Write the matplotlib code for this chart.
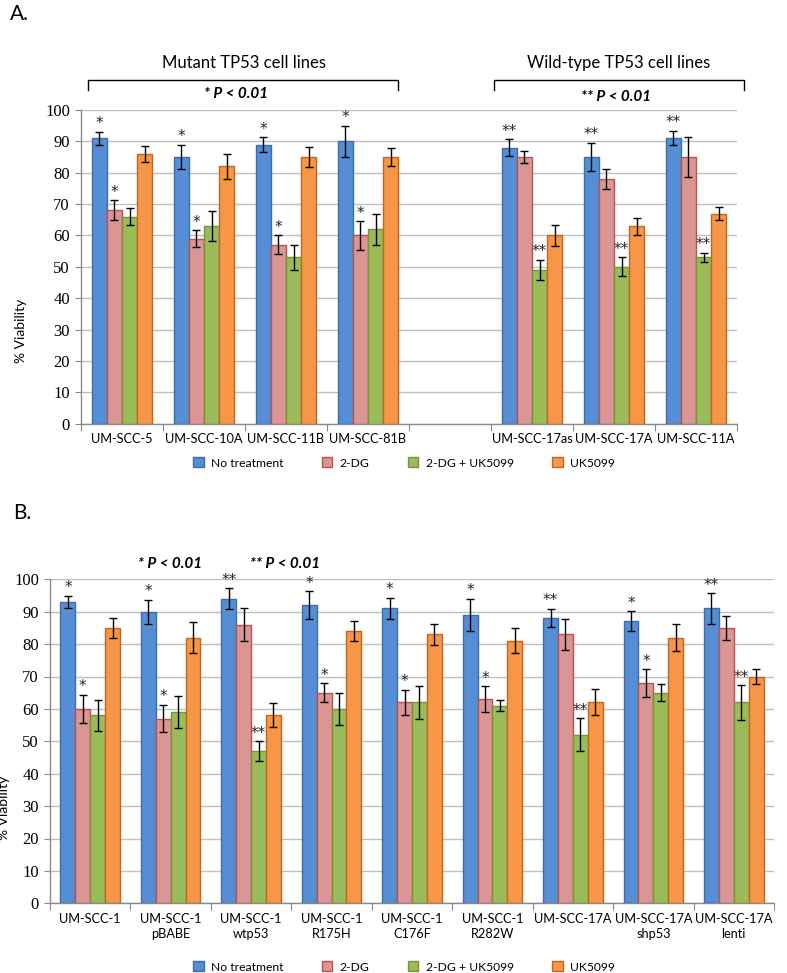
import matplotlib
matplotlib.use("Agg")
import matplotlib.pyplot as plt
import matplotlib.transforms as mtransforms
from matplotlib.patches import Patch
import numpy as np

plt.rcParams['font.family'] = ['Lato', 'DejaVu Sans']

series_names = ["No treatment", "2-DG", "2-DG + UK5099", "UK5099"]
face_colors = ["#558ED5", "#D99694", "#9BBB59", "#F79646"]
edge_colors = ["#3B6DB0", "#C0504D", "#77933C", "#C3651E"]

# ---------------- Panel A data ----------------
a_categories = ["UM-SCC-5", "UM-SCC-10A", "UM-SCC-11B", "UM-SCC-81B", "",
                "UM-SCC-17as", "UM-SCC-17A", "UM-SCC-11A"]
a_no_treat = [91, 85, 89, 90, None, 88, 85, 91]
a_2dg      = [68, 59, 57, 60, None, 85, 78, 85]
a_combo    = [66, 63, 53, 62, None, 49, 50, 53]
a_uk       = [86, 82, 85, 85, None, 60, 63, 67]
a_no_treat_err = [2.0, 3.9, 2.3, 5.0, None, 2.7, 4.5, 2.3]
a_2dg_err      = [3.2, 2.6, 3.0, 4.5, None, 2.0, 3.3, 6.4]
a_combo_err    = [2.7, 4.7, 4.0, 5.0, None, 3.2, 3.0, 1.5]
a_uk_err       = [2.6, 4.0, 3.2, 2.8, None, 3.2, 2.7, 2.2]
a_no_treat_sig = ["*", "*", "*", "*", "", "**", "**", "**"]
a_2dg_sig      = ["*", "*", "*", "*", "", "", "", ""]
a_combo_sig    = ["", "", "", "", "", "**", "**", "**"]
a_uk_sig       = ["", "", "", "", "", "", "", ""]

# ---------------- Panel B data ----------------
b_categories = ["UM-SCC-1", "UM-SCC-1\npBABE", "UM-SCC-1\nwtp53", "UM-SCC-1\nR175H",
                "UM-SCC-1\nC176F", "UM-SCC-1\nR282W", "UM-SCC-17A",
                "UM-SCC-17A\nshp53", "UM-SCC-17A\nlenti"]
b_no_treat = [93, 90, 94, 92, 91, 89, 88, 87, 91]
b_2dg      = [60, 57, 86, 65, 62, 63, 83, 68, 85]
b_combo    = [58, 59, 47, 60, 62, 61, 52, 65, 62]
b_uk       = [85, 82, 58, 84, 83, 81, 62, 82, 70]
b_no_treat_err = [2.0, 3.7, 3.2, 4.3, 3.3, 5.0, 2.8, 3.1, 4.7]
b_2dg_err      = [4.3, 4.2, 5.0, 2.9, 3.9, 4.0, 4.9, 4.2, 3.8]
b_combo_err    = [4.8, 5.0, 3.0, 4.9, 5.0, 1.8, 5.1, 2.7, 5.3]
b_uk_err       = [3.0, 4.7, 3.7, 3.0, 3.3, 3.9, 4.0, 4.1, 2.2]
b_no_treat_sig = ["*", "*", "**", "*", "*", "*", "**", "*", "**"]
b_2dg_sig      = ["*", "*", "", "*", "*", "*", "", "*", ""]
b_combo_sig    = ["", "", "**", "", "", "", "**", "", "**"]
b_uk_sig       = ["", "", "", "", "", "", "", "", ""]

W, H = 787, 973
fig = plt.figure(figsize=(W / 100, H / 100), dpi=100)


def make_axes(left, top, right, bottom):
    return fig.add_axes([left / W, 1 - bottom / H, (right - left) / W, (bottom - top) / H])


GRID = "#BFBFBF"
SPINE = "#898989"
BW = 0.185


def draw_panel(ax, cats, vals, errs, sigs):
    n = len(cats)
    centers = np.arange(n) + 0.5
    for j in range(4):
        xs, ys, es, ss = [], [], [], []
        for i in range(n):
            if vals[j][i] is None:
                continue
            xs.append(centers[i] + (j - 1.5) * BW)
            ys.append(vals[j][i])
            es.append(errs[j][i])
            ss.append(sigs[j][i])
        ax.bar(xs, ys, width=BW, color=face_colors[j], edgecolor=edge_colors[j],
               linewidth=1.0, zorder=3)
        ax.errorbar(xs, ys, yerr=es, fmt="none", ecolor="black", elinewidth=1.0,
                    capsize=2.8, capthick=1.0, zorder=4)
        for x, y, e, s in zip(xs, ys, es, ss):
            if s:
                ax.text(x, y + e + 0.2, s, ha="center", va="bottom", fontsize=11,
                        family="DejaVu Sans", color="#222222", zorder=5)
    ax.set_xlim(0, n)
    ax.set_ylim(0, 100)
    ax.set_yticks(np.arange(0, 101, 10))
    ax.yaxis.grid(True, color=GRID, linewidth=1.0, zorder=0)
    ax.set_axisbelow(True)
    for sp in ["top", "right"]:
        ax.spines[sp].set_visible(False)
    for sp in ["left", "bottom"]:
        ax.spines[sp].set_color(SPINE)
        ax.spines[sp].set_linewidth(1.0)
    ax.set_xticks(np.arange(n + 1))
    ax.set_xticklabels([])
    ax.set_xticks(centers, minor=True)
    ax.set_xticklabels(cats, minor=True, fontsize=9.2, linespacing=1.3)
    ax.tick_params(axis="x", which="major", length=5, color=SPINE, direction="out")
    ax.tick_params(axis="x", which="minor", length=0, pad=7)
    ax.tick_params(axis="y", length=4, color=SPINE, direction="out", pad=4)
    for t in ax.get_yticklabels():
        t.set_fontfamily("Liberation Serif")
        t.set_fontsize(12)
    ax.set_ylabel("% Viability", fontsize=10)


# ---------------- Panel A ----------------
axA = make_axes(81, 110, 737, 423.7)
draw_panel(axA, a_categories, [a_no_treat, a_2dg, a_combo, a_uk],
           [a_no_treat_err, a_2dg_err, a_combo_err, a_uk_err],
           [a_no_treat_sig, a_2dg_sig, a_combo_sig, a_uk_sig])
axA.yaxis.set_label_coords(-0.082, 0.295)

trA = mtransforms.blended_transform_factory(axA.transData, axA.transAxes)
for (x0, x1) in [(0.085, 3.87), (5.04, 8.09)]:
    axA.plot([x0, x0, x1, x1], [1.064, 1.096, 1.096, 1.064], color="black",
             linewidth=1.0, transform=trA, clip_on=False)
axA.text(1.99, 1.15, "Mutant TP53 cell lines", transform=trA, ha="center",
         va="center", fontsize=12)
axA.text(6.56, 1.15, "Wild-type TP53 cell lines", transform=trA, ha="center",
         va="center", fontsize=12)
axA.text(1.89, 1.05, "* P < 0.01", transform=trA, ha="center", va="center",
         fontsize=11, fontweight="bold", style="italic")
axA.text(6.52, 1.043, "** P < 0.01", transform=trA, ha="center", va="center",
         fontsize=11, fontweight="bold", style="italic")

# ---------------- Panel B ----------------
axB = make_axes(50, 579.3, 774, 903.3)
draw_panel(axB, b_categories, [b_no_treat, b_2dg, b_combo, b_uk],
           [b_no_treat_err, b_2dg_err, b_combo_err, b_uk_err],
           [b_no_treat_sig, b_2dg_sig, b_combo_sig, b_uk_sig])
axB.yaxis.set_label_coords(-0.055, 0.294)
trB = mtransforms.blended_transform_factory(axB.transData, axB.transAxes)
axB.text(1.49, 1.047, "* P < 0.01", transform=trB, ha="center", va="center",
         fontsize=11, fontweight="bold", style="italic")
axB.text(2.92, 1.047, "** P < 0.01", transform=trB, ha="center", va="center",
         fontsize=11, fontweight="bold", style="italic")

# ---------------- Panel letters ----------------
fig.text(10 / W, 1 - 14 / H, "A.", fontsize=15, ha="left", va="center")
fig.text(13 / W, 1 - 513 / H, "B.", fontsize=15, ha="left", va="center")

# ---------------- Legends ----------------
handles = [Patch(facecolor=face_colors[j], edgecolor=edge_colors[j], linewidth=1.0)
           for j in range(4)]
for ycen in [463, 967]:
    fig.legend(handles, series_names, loc="center", ncol=4,
               bbox_to_anchor=(404 / W, 1 - ycen / H), frameon=False,
               fontsize=8.7, handlelength=0.85, handleheight=0.85,
               handletextpad=0.6, columnspacing=3.2, borderaxespad=0)

fig.savefig("out.png", dpi=100)
